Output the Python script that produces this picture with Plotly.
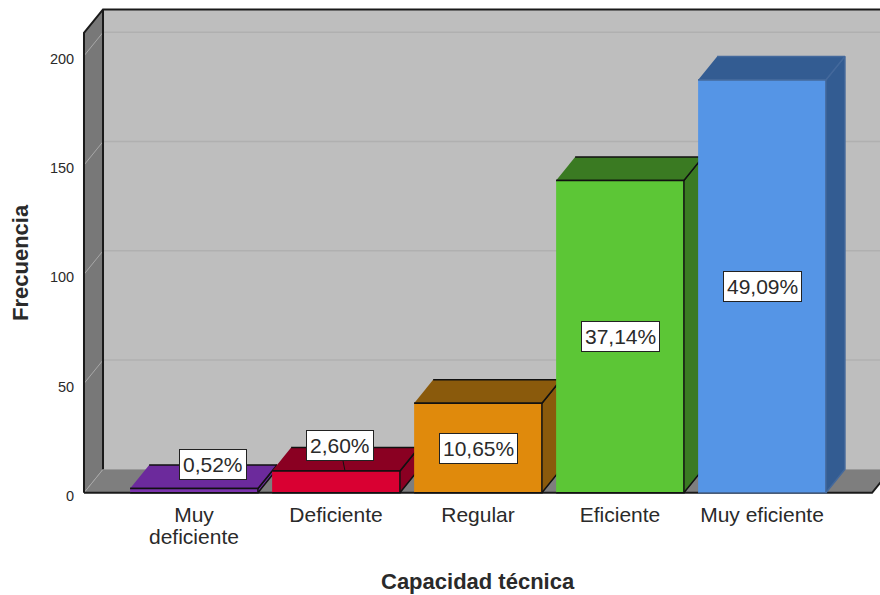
import plotly.graph_objects as go

categories = ["Muy", "Deficiente", "Regular", "Eficiente", "Muy eficiente"]
frecuencia = [2, 10, 41, 143, 189]
porcentajes = ["0,52%", "2,60%", "10,65%", "37,14%", "49,09%"]
y_ticks = [0, 50, 100, 150, 200]

front_colors = ["#7B33AE", "#D90032", "#E08A0C", "#5CC636", "#5595E6"]
shade_colors = ["#6C2A9C", "#8A0022", "#8A5A0C", "#3A7A22", "#335C92"]
edge_colors = ["#111111", "#111111", "#111111", "#111111", "#44699C"]

# axis window, 142 px per category and 2.185 px per count
x_min, x_max = -0.789, 4.831
y_min, y_max = -1, 221.9
depth_x, depth_y = 0.134, 10.75
half_bar = 0.45
wall_left = -0.775
floor_right = 4.775
wall_top = 210.5
text_color = "#2A2A2A"


def add_poly(fig, xs, ys, fill, line_color, width=1.5):
    fig.add_trace(go.Scatter(x=xs, y=ys, mode="lines", fill="toself", fillcolor=fill,
                             line=dict(color=line_color, width=width), hoverinfo="skip", showlegend=False))


def add_line(fig, xs, ys, color, width=1.5):
    fig.add_trace(go.Scatter(x=xs, y=ys, mode="lines", line=dict(color=color, width=width),
                             hoverinfo="skip", showlegend=False))


fig = go.Figure()

# back wall, side wall and floor
back_x = wall_left + depth_x
add_poly(fig, [back_x, x_max + 1, x_max + 1, back_x], [depth_y, depth_y, wall_top + depth_y, wall_top + depth_y], "#BEBEBE", "#BEBEBE", 0)
add_poly(fig, [wall_left, back_x, back_x, wall_left], [0, depth_y, wall_top + depth_y, wall_top], "#787878", "#787878", 0)
add_poly(fig, [wall_left, floor_right, floor_right + depth_x, back_x], [0, 0, depth_y, depth_y], "#7E7E7E", "#7E7E7E", 0)

# gridlines follow the walls, not the front of the axis
for t in y_ticks[1:]:
    add_line(fig, [back_x, x_max + 1], [t + depth_y, t + depth_y], "#B0B0B0", 1.5)
    add_line(fig, [wall_left, back_x], [t, t + depth_y], "#A8A8A8", 1)
add_line(fig, [wall_left, back_x], [0, depth_y], "#A8A8A8", 1)

# frame
add_line(fig, [wall_left, wall_left, back_x, x_max + 1], [0, wall_top, wall_top + depth_y, wall_top + depth_y], "#1A1A1A", 2)
add_line(fig, [back_x, back_x], [depth_y, wall_top + depth_y], "#1A1A1A", 2)
add_line(fig, [wall_left, floor_right, floor_right + depth_x], [0, 0, depth_y], "#1A1A1A", 2)

# bars, left to right so each front covers the previous side
for i, v in enumerate(frecuencia):
    x0, x1 = i - half_bar, i + half_bar
    add_poly(fig, [x1, x1 + depth_x, x1 + depth_x, x1], [0, depth_y, v + depth_y, v], shade_colors[i], edge_colors[i])
    add_poly(fig, [x0, x1, x1 + depth_x, x0 + depth_x], [v, v, v + depth_y, v + depth_y], shade_colors[i], edge_colors[i])
    add_poly(fig, [x0, x1, x1, x0], [0, 0, v, v], front_colors[i], edge_colors[i])

# percentage boxes: centred on the bar, the two short bars push them above
for i, v in enumerate(frecuencia):
    label = dict(x=i, y=v / 2, text=porcentajes[i], showarrow=False, font=dict(family="Liberation Sans", size=21, color=text_color),
                 bgcolor="white", bordercolor="#222222", borderwidth=1, borderpad=3)
    if i == 0:
        label.update(y=v, xshift=19, yshift=24)
    if i == 1:
        label.update(y=v, xshift=9, showarrow=True, arrowhead=0, arrowwidth=1, arrowcolor="#111111", ax=-5, ay=-25)
    fig.add_annotation(**label)

# plotly spaces <br> lines too far apart here, so the second line sits on its own
fig.add_annotation(x=0, y=0, text="deficiente", showarrow=False, yanchor="middle", yshift=-44,
                   font=dict(family="Liberation Sans", size=21, color=text_color))

# titles are off the plot centre in the reference
fig.add_annotation(xref="paper", yref="paper", x=(478 - 82) / 798, y=(495 - 581) / 487, text="<b>Capacidad técnica</b>",
                   showarrow=False, xanchor="center", yanchor="middle", font=dict(family="Liberation Sans", size=22, color=text_color))
fig.add_annotation(xref="paper", yref="paper", x=(20 - 82) / 798, y=(495 - 263) / 487, text="<b>Frecuencia</b>", textangle=-90,
                   showarrow=False, xanchor="center", yanchor="middle", font=dict(family="Liberation Sans", size=22, color=text_color))

fig.update_layout(
    width=880, height=595,
    margin=dict(l=82, r=0, t=8, b=100),
    paper_bgcolor="white", plot_bgcolor="white",
    font=dict(family="Liberation Sans", color=text_color),
    xaxis=dict(range=[x_min, x_max], tickmode="array", tickvals=list(range(5)), ticktext=categories,
               showgrid=False, zeroline=False, ticks="outside", ticklen=1, tickcolor="rgba(0,0,0,0)",
               tickfont=dict(size=21)),
    yaxis=dict(range=[y_min, y_max], tickmode="array", tickvals=y_ticks,
               showgrid=False, zeroline=False, ticks="outside", ticklen=4, tickcolor="rgba(0,0,0,0)",
               tickfont=dict(size=14.5), ticklabelshift=3),
)

# the page body has an 8 px margin by default
fig.write_html("out.html", config=dict(displayModeBar=False), post_script="document.body.style.margin='0';")
